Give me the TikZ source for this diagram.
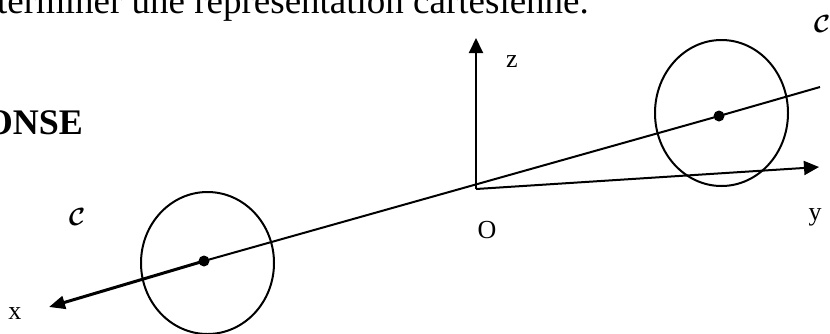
\documentclass[tikz,border=0pt]{standalone}
\usepackage{fontspec}
\setmainfont{Liberation Serif}
\usepackage{amsmath,bm}
\usetikzlibrary{arrows.meta}
\tikzset{
  thinline/.style={line width=2pt, line cap=butt},
  axis/.style={line width=2pt, -{Triangle[length=15pt,width=14pt]}},
  thickaxis/.style={line width=3pt, -{Triangle[length=16pt,width=13pt]}},
  lbl/.style={font=\fontsize{26}{28}\selectfont, inner sep=0pt},
  curve/.style={font=\fontsize{32}{34}\selectfont, inner sep=0pt},
  dotmark/.style={circle, fill=black, inner sep=0pt, minimum size=11pt},
  ring/.style={line width=2pt}
}
\begin{document}
\begin{tikzpicture}[x=1pt,y=-1pt]
\useasboundingbox (0,0) rectangle (830,333);
% top text
\node[anchor=base east, inner sep=0pt, font=\fontsize{37}{40}\selectfont] (toptext) at (589,13) {terminer une représentation cartésienne.};
\node[anchor=base east, inner sep=0pt, font=\fontsize{36}{40}\selectfont\bfseries] (rep) at (83,134) {ONSE};
% circles
\draw[ring] (207.5,263) ellipse [x radius=66.5, y radius=71];
\draw[ring] (721.5,113) ellipse [x radius=66.5, y radius=73];
% origin and points
\coordinate (O) at (476,189);
\coordinate (ztip) at (476,38);
\coordinate (ytip) at (819,167);
\coordinate (xtip) at (49,307);
\coordinate (dend) at (820,87);
\node[dotmark] (pR) at (719,116) {};
\node[dotmark] (pL) at (204,261) {};
% line D
\draw[thinline] (dend) -- (pR.center) -- (pL.center);
\draw[thickaxis] (pL.center) -- (xtip);
% axes
\draw[axis] (O) -- (ztip);
\draw[axis] (O) -- (ytip);
% labels
\node[lbl] (zl) at (512,62) {z};
\node[lbl] (Ol) at (487,230) {O};
\node[lbl] (xl) at (15,314) {x};
\node[lbl] (yl) at (815,217) {y};
\node[curve] (C1) at (77,217) {$\bm{\mathcal{C}}$};
\node[curve] (C2) at (822,24) {$\bm{\mathcal{C}}$};
\end{tikzpicture}
\end{document}
